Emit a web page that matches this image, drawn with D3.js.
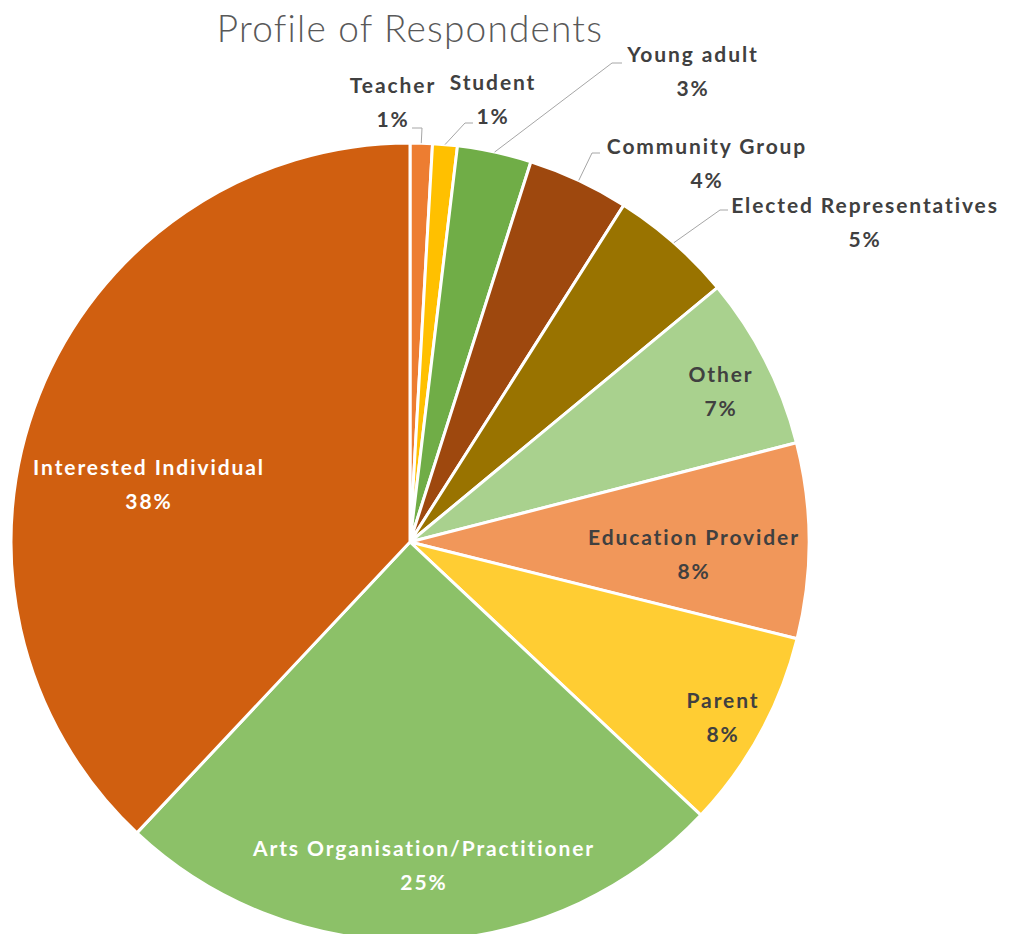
<!DOCTYPE html>
<html>
<head>
<meta charset="utf-8">
<script src="https://cdn.jsdelivr.net/npm/d3@7"></script>
<style>
  html, body { margin: 0; padding: 0; background: #fff; }
  svg { display: block; }
</style>
</head>
<body>
<svg id="chart" width="1009" height="934"></svg>
<script>
// ---- data ----
const categories = ["Teacher", "Student", "Young adult", "Community Group", "Elected Representatives",
  "Other", "Education Provider", "Parent", "Arts Organisation/Practitioner", "Interested Individual"];
const values = [0.9, 1.0, 3.0, 4.1, 5.0, 7.0, 7.9, 8.1, 25.0, 38.0];
const percentLabels = ["1%", "1%", "3%", "4%", "5%", "7%", "8%", "8%", "25%", "38%"];
const colors = ["#ED7D31", "#FFC000", "#70AD47", "#9E480E", "#997300",
  "#A9D18E", "#F1975A", "#FFCD33", "#8CC168", "#D05F10"];
const titleText = "Profile of Respondents";

// ---- layout (label centres, leader bends) ----
const labelPos = [
  {x: 392, y: 93, bend: [422, 128], end: [412, 128]},
  {x: 492, y: 90, bend: [465, 123], end: [473, 123]},
  {x: 692, y: 62, bend: [612, 63], end: [622, 63]},
  {x: 706, y: 154, bend: [592, 153], end: [600, 153]},
  {x: 864, y: 213, bend: [720, 210], end: [728, 210]},
  {x: 720, y: 382, bend: null},
  {x: 693, y: 545, bend: null},
  {x: 722, y: 708, bend: null},
  {x: 423, y: 856, bend: null},
  {x: 148, y: 475, bend: null}
];
const whiteText = [false, false, false, false, false, false, false, false, true, true];

const svg = d3.select("#chart");
const cx = 410, cy = 542, R = 399;

svg.append("text")
  .attr("x", 410).attr("y", 42)
  .attr("text-anchor", "middle")
  .attr("font-family", "Lato, 'Open Sans', sans-serif")
  .attr("font-weight", 300)
  .attr("font-size", 37)
  .attr("letter-spacing", 1.2)
  .attr("fill", "#595959")
  .text(titleText);

const data = categories.map((c, i) => ({cat: c, value: values[i], pct: percentLabels[i], color: colors[i], i}));
const pie = d3.pie().value(d => d.value).sort(null);
const arcs = pie(data);
const arc = d3.arc().innerRadius(0).outerRadius(R);

const g = svg.append("g").attr("transform", `translate(${cx},${cy})`);
g.selectAll("path.slice").data(arcs).join("path")
  .attr("class", "slice")
  .attr("d", arc)
  .attr("fill", d => d.data.color)
  .attr("stroke", "#fff")
  .attr("stroke-width", 3)
  .attr("stroke-linejoin", "round");

// leader lines
arcs.forEach((a, i) => {
  const lp = labelPos[i];
  if (!lp.bend) return;
  const mid = (a.startAngle + a.endAngle) / 2;
  const sx = cx + R * Math.sin(mid), sy = cy - R * Math.cos(mid);
  svg.append("polyline")
    .attr("points", [[sx, sy], lp.bend, lp.end].map(p => p.join(",")).join(" "))
    .attr("fill", "none")
    .attr("stroke", "#A6A6A6")
    .attr("stroke-width", 1);
});

// labels
const lbl = svg.append("g")
  .attr("font-family", "Lato, 'Open Sans', sans-serif")
  .attr("font-weight", 700)
  .attr("font-size", 21)
  .attr("letter-spacing", 1.9)
  .attr("text-anchor", "middle");
arcs.forEach((a, i) => {
  const lp = labelPos[i];
  const t = lbl.append("text")
    .attr("fill", whiteText[i] ? "#FFFFFF" : "#404040");
  t.append("tspan").attr("x", lp.x + 1).attr("y", lp.y).text(a.data.cat);
  t.append("tspan").attr("x", lp.x + 1).attr("y", lp.y + 34).text(a.data.pct);
});
</script>
</body>
</html>
